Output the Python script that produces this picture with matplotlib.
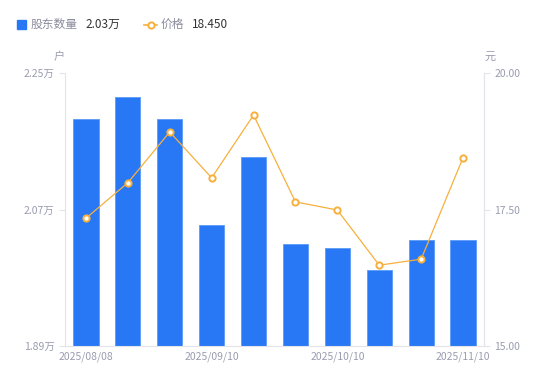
import numpy as np
import matplotlib
matplotlib.use("Agg")
import matplotlib.pyplot as plt
from matplotlib.lines import Line2D

plt.rcParams['font.family'] = ['Noto Sans CJK SC', 'DejaVu Sans']

# data
dates = ["2025/08/08", "2025/08/20", "2025/08/29", "2025/09/10", "2025/09/19",
         "2025/09/30", "2025/10/10", "2025/10/20", "2025/10/31", "2025/11/10"]
holders = [2.189, 2.218, 2.189, 2.0495, 2.139, 2.024, 2.019, 1.990, 2.030, 2.030]  # 万户
price = [17.34, 17.99, 18.92, 18.08, 19.23, 17.64, 17.49, 16.48, 16.59, 18.45]
tick_idx = [0, 3, 6, 9]

bar_color = "#2878F5"
line_color = "#F7B03C"
label_color = "#9A9CB0"
spine_color = "#E3E4EA"

fig = plt.figure(figsize=(5.5, 3.81), dpi=100)
ax = fig.add_axes([65/550, 35/381, 419/550, 273/381])
ax2 = ax.twinx()

x = np.arange(len(dates))
ax.bar(x, holders, width=0.6, color=bar_color, edgecolor="#5C9BF8", linewidth=0.6, zorder=2)
ax.set_xlim(-0.5, len(dates) - 0.5)
ax.set_ylim(1.89, 2.25)
ax.set_yticks([1.89, 2.07, 2.25])
ax.set_yticklabels(["1.89万", "2.07万", "2.25万"])

ax2.plot(x, price, color=line_color, lw=0.9, marker="o", ms=4.5,
         mfc="white", mec=line_color, mew=1.4, zorder=3)
ax2.set_ylim(15, 20)
ax2.set_yticks([15, 17.5, 20])
ax2.set_yticklabels(["15.00", "17.50", "20.00"])

ax.set_xticks(tick_idx)
ax.set_xticklabels([dates[i] for i in tick_idx])

for a in (ax, ax2):
    for s in a.spines.values():
        s.set_color(spine_color)
    a.spines["top"].set_visible(False)
    a.tick_params(colors=label_color, labelsize=7.5, length=4, width=0.8)
    a.tick_params(axis="y", colors=spine_color, labelcolor=label_color)
ax.tick_params(axis="x", length=0, pad=4)
ax2.spines["left"].set_visible(False)
ax2.spines["bottom"].set_visible(False)

fig.text(59/550, 1 - 57/381, "户", color=label_color, fontsize=8, ha="center", va="center")
fig.text(490/550, 1 - 57/381, "元", color=label_color, fontsize=8, ha="center", va="center")

# legend
fig.patches.append(plt.Rectangle((17/550, 1 - 29/381), 9/550, 9/381, transform=fig.transFigure,
                                 color=bar_color, figure=fig))
fig.text(31/550, 1 - 24.5/381, "股东数量", color="#8A8C9C", fontsize=8.5, va="center")
fig.text(85/550, 1 - 24.5/381, "2.03万", color="#333333", fontsize=8.5, va="center")
fig.add_artist(Line2D([144/550, 157/550], [1 - 24.5/381] * 2, transform=fig.transFigure,
                      color=line_color, lw=1.2, marker="o", markevery=[0], ms=0))
fig.add_artist(Line2D([150.5/550], [1 - 24.5/381], transform=fig.transFigure,
                      color=line_color, marker="o", ms=4.5, mfc="white", mew=1.4))
fig.text(161/550, 1 - 24.5/381, "价格", color="#8A8C9C", fontsize=8.5, va="center")
fig.text(192/550, 1 - 24.5/381, "18.450", color="#333333", fontsize=8.5, va="center")

fig.savefig("out.png", dpi=100)
